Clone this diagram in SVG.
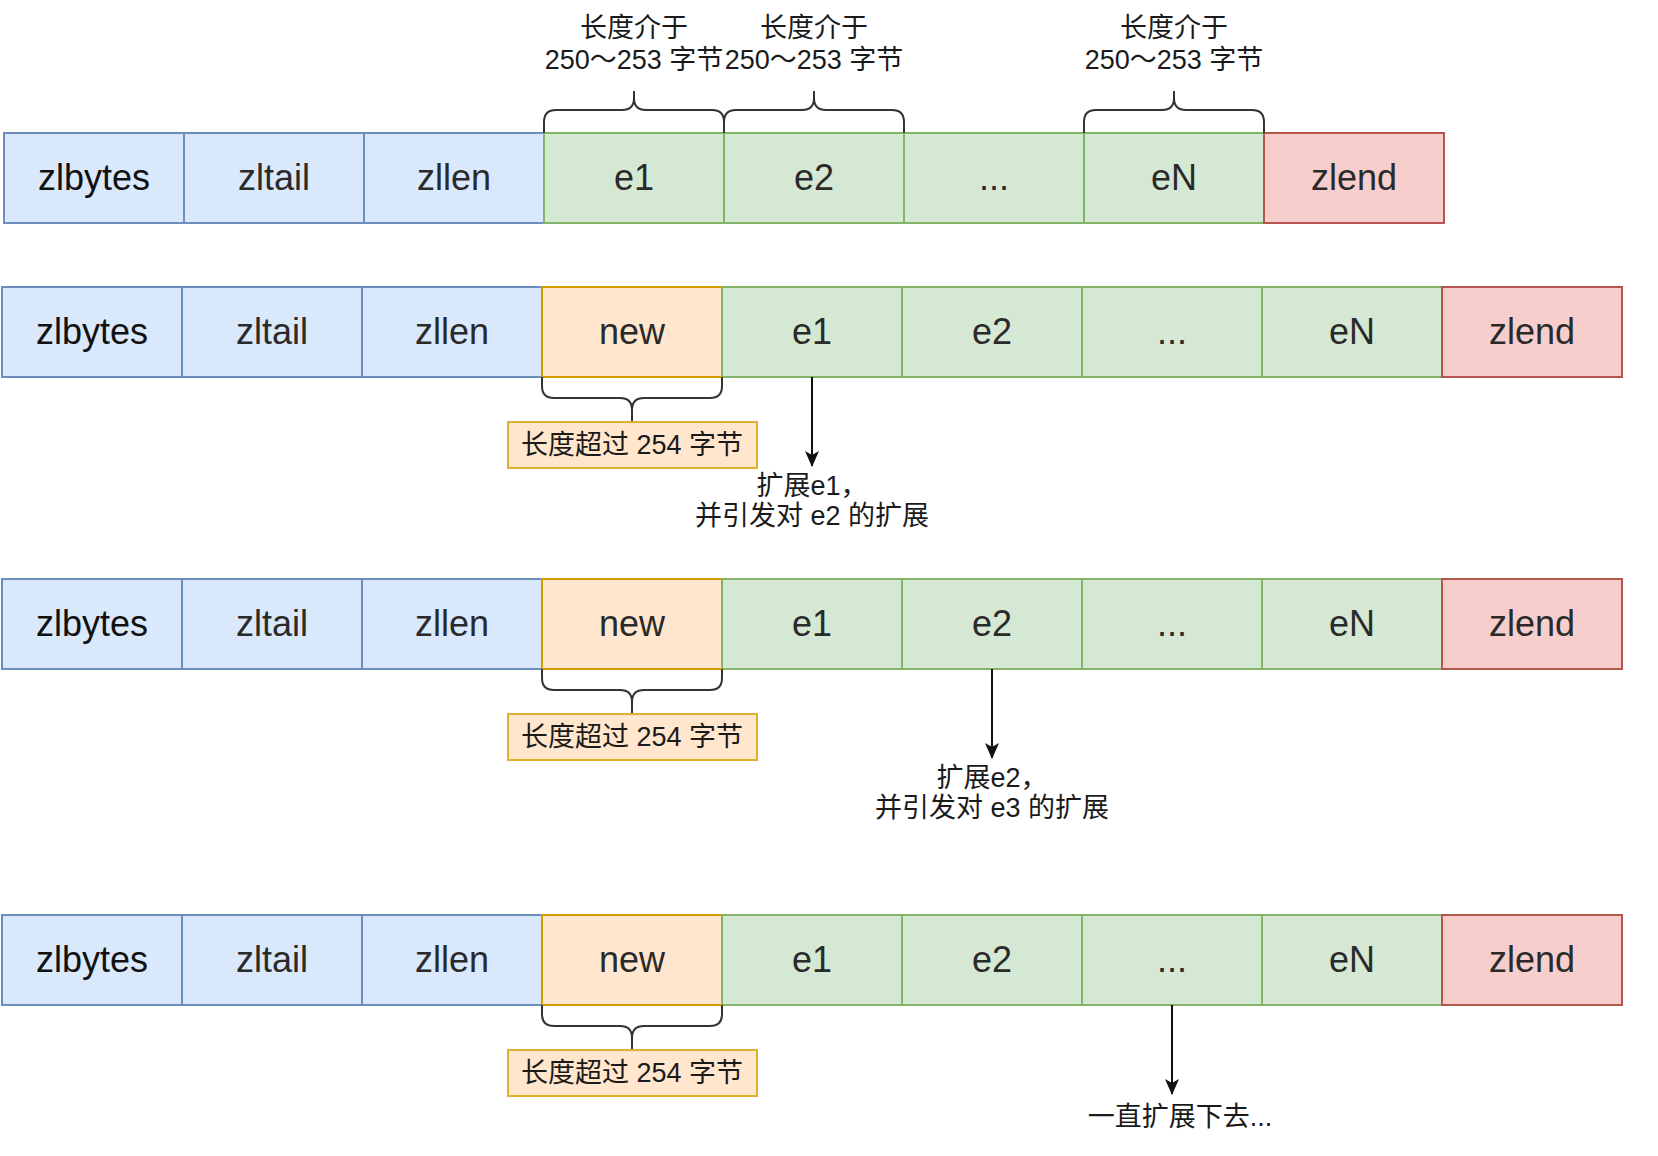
<svg xmlns="http://www.w3.org/2000/svg" width="1658" height="1156" viewBox="0 0 1658 1156">
<defs>
<style>
.b{fill:#dae8fc;stroke:#6c8ebf;stroke-width:2}
.g{fill:#d5e8d4;stroke:#82b366;stroke-width:2}
.o{fill:#ffe6cc;stroke:#d79b00;stroke-width:2}
.r{fill:#f8cecc;stroke:#b85450;stroke-width:2}
.lb{fill:#ffe6cc;stroke:#e0b030;stroke-width:2}
.t{font-family:"Liberation Sans",Arial,sans-serif;font-size:36px;fill:#2a2a2a;text-anchor:middle}
.c{font-family:"Liberation Sans","Noto Sans CJK SC",sans-serif;font-size:27px;fill:#1a1a1a;text-anchor:middle}
.br{fill:none;stroke:#333;stroke-width:2}
.ar{stroke:#111;stroke-width:2;fill:none}
</style>
<marker id="ah" markerWidth="16" markerHeight="16" viewBox="0 0 16 16" refX="15" refY="8" orient="auto" markerUnits="userSpaceOnUse">
<path d="M0,1 L16,8 L0,15 L4,8 Z" fill="#111"/>
</marker>
</defs>
<rect width="1658" height="1156" fill="#fff"/>

<!-- Row 1 -->
<g id="row1">
<g id="r1-zlbytes"><rect class="b" x="4" y="133" width="180" height="90"/><text class="t" x="94" y="190" fill="#111" style="fill:#111">zlbytes</text></g>
<g id="r1-zltail"><rect class="b" x="184" y="133" width="180" height="90"/><text class="t" x="274" y="190">zltail</text></g>
<g id="r1-zllen"><rect class="b" x="364" y="133" width="180" height="90"/><text class="t" x="454" y="190">zllen</text></g>
<g id="r1-e1"><rect class="g" x="544" y="133" width="180" height="90"/><text class="t" x="634" y="190">e1</text></g>
<g id="r1-e2"><rect class="g" x="724" y="133" width="180" height="90"/><text class="t" x="814" y="190">e2</text></g>
<g id="r1-dots"><rect class="g" x="904" y="133" width="180" height="90"/><text class="t" x="994" y="190">...</text></g>
<g id="r1-eN"><rect class="g" x="1084" y="133" width="180" height="90"/><text class="t" x="1174" y="190">eN</text></g>
<g id="r1-zlend"><rect class="r" x="1264" y="133" width="180" height="90"/><text class="t" x="1354" y="190">zlend</text></g>
</g>
<g id="r1-labels">
<g id="lab-e1"><text class="c" x="634" y="37">长度介于</text><text class="c" x="634" y="69">250～253 字节</text></g>
<g id="lab-e2"><text class="c" x="814" y="37">长度介于</text><text class="c" x="814" y="69">250～253 字节</text></g>
<g id="lab-eN"><text class="c" x="1174" y="37">长度介于</text><text class="c" x="1174" y="69">250～253 字节</text></g>
</g>

<!-- Row 2 -->
<g id="row2">
<g id="r2-zlbytes"><rect class="b" x="2" y="287" width="180" height="90"/><text class="t" x="92" y="344" style="fill:#111">zlbytes</text></g>
<g id="r2-zltail"><rect class="b" x="182" y="287" width="180" height="90"/><text class="t" x="272" y="344">zltail</text></g>
<g id="r2-zllen"><rect class="b" x="362" y="287" width="180" height="90"/><text class="t" x="452" y="344">zllen</text></g>
<g id="r2-new"><rect class="o" x="542" y="287" width="180" height="90"/><text class="t" x="632" y="344">new</text></g>
<g id="r2-e1"><rect class="g" x="722" y="287" width="180" height="90"/><text class="t" x="812" y="344">e1</text></g>
<g id="r2-e2"><rect class="g" x="902" y="287" width="180" height="90"/><text class="t" x="992" y="344">e2</text></g>
<g id="r2-dots"><rect class="g" x="1082" y="287" width="180" height="90"/><text class="t" x="1172" y="344">...</text></g>
<g id="r2-eN"><rect class="g" x="1262" y="287" width="180" height="90"/><text class="t" x="1352" y="344">eN</text></g>
<g id="r2-zlend"><rect class="r" x="1442" y="287" width="180" height="90"/><text class="t" x="1532" y="344">zlend</text></g>
</g>
<g id="r2-label"><rect class="lb" x="508" y="422" width="249" height="46"/><text class="c" x="632" y="454">长度超过 254 字节</text></g>
<g id="r2-note"><text class="c" x="812" y="495">扩展e1，</text><text class="c" x="812" y="525">并引发对 e2 的扩展</text></g>

<!-- Row 3 -->
<g id="row3">
<g id="r3-zlbytes"><rect class="b" x="2" y="579" width="180" height="90"/><text class="t" x="92" y="636" style="fill:#111">zlbytes</text></g>
<g id="r3-zltail"><rect class="b" x="182" y="579" width="180" height="90"/><text class="t" x="272" y="636">zltail</text></g>
<g id="r3-zllen"><rect class="b" x="362" y="579" width="180" height="90"/><text class="t" x="452" y="636">zllen</text></g>
<g id="r3-new"><rect class="o" x="542" y="579" width="180" height="90"/><text class="t" x="632" y="636">new</text></g>
<g id="r3-e1"><rect class="g" x="722" y="579" width="180" height="90"/><text class="t" x="812" y="636">e1</text></g>
<g id="r3-e2"><rect class="g" x="902" y="579" width="180" height="90"/><text class="t" x="992" y="636">e2</text></g>
<g id="r3-dots"><rect class="g" x="1082" y="579" width="180" height="90"/><text class="t" x="1172" y="636">...</text></g>
<g id="r3-eN"><rect class="g" x="1262" y="579" width="180" height="90"/><text class="t" x="1352" y="636">eN</text></g>
<g id="r3-zlend"><rect class="r" x="1442" y="579" width="180" height="90"/><text class="t" x="1532" y="636">zlend</text></g>
</g>
<g id="r3-label"><rect class="lb" x="508" y="714" width="249" height="46"/><text class="c" x="632" y="746">长度超过 254 字节</text></g>
<g id="r3-note"><text class="c" x="992" y="787">扩展e2，</text><text class="c" x="992" y="817">并引发对 e3 的扩展</text></g>

<!-- Row 4 -->
<g id="row4">
<g id="r4-zlbytes"><rect class="b" x="2" y="915" width="180" height="90"/><text class="t" x="92" y="972" style="fill:#111">zlbytes</text></g>
<g id="r4-zltail"><rect class="b" x="182" y="915" width="180" height="90"/><text class="t" x="272" y="972">zltail</text></g>
<g id="r4-zllen"><rect class="b" x="362" y="915" width="180" height="90"/><text class="t" x="452" y="972">zllen</text></g>
<g id="r4-new"><rect class="o" x="542" y="915" width="180" height="90"/><text class="t" x="632" y="972">new</text></g>
<g id="r4-e1"><rect class="g" x="722" y="915" width="180" height="90"/><text class="t" x="812" y="972">e1</text></g>
<g id="r4-e2"><rect class="g" x="902" y="915" width="180" height="90"/><text class="t" x="992" y="972">e2</text></g>
<g id="r4-dots"><rect class="g" x="1082" y="915" width="180" height="90"/><text class="t" x="1172" y="972">...</text></g>
<g id="r4-eN"><rect class="g" x="1262" y="915" width="180" height="90"/><text class="t" x="1352" y="972">eN</text></g>
<g id="r4-zlend"><rect class="r" x="1442" y="915" width="180" height="90"/><text class="t" x="1532" y="972">zlend</text></g>
</g>
<g id="r4-label"><rect class="lb" x="508" y="1050" width="249" height="46"/><text class="c" x="632" y="1082">长度超过 254 字节</text></g>
<g id="r4-note"><text class="c" x="1180" y="1126">一直扩展下去...</text></g>

<!-- Connectors: braces and arrows -->
<g id="connectors">
<path class="br" d="M544,133 V122 Q544,110 556,110 H622 Q634,110 634,98 V91 M634,98 Q634,110 646,110 H712 Q724,110 724,122 V133"/>
<path class="br" d="M724,133 V122 Q724,110 736,110 H802 Q814,110 814,98 V91 M814,98 Q814,110 826,110 H892 Q904,110 904,122 V133"/>
<path class="br" d="M1084,133 V122 Q1084,110 1096,110 H1162 Q1174,110 1174,98 V91 M1174,98 Q1174,110 1186,110 H1252 Q1264,110 1264,122 V133"/>
<path class="br" d="M542,377 V386 Q542,398 554,398 H620 Q632,398 632,410 V421 M632,410 Q632,398 644,398 H710 Q722,398 722,386 V377"/>
<path class="br" d="M542,669 V678 Q542,690 554,690 H620 Q632,690 632,702 V713 M632,702 Q632,690 644,690 H710 Q722,690 722,678 V669"/>
<path class="br" d="M542,1005 V1014 Q542,1026 554,1026 H620 Q632,1026 632,1038 V1049 M632,1038 Q632,1026 644,1026 H710 Q722,1026 722,1014 V1005"/>
<line class="ar" x1="812" y1="377" x2="812" y2="466" marker-end="url(#ah)"/>
<line class="ar" x1="992" y1="669" x2="992" y2="758" marker-end="url(#ah)"/>
<line class="ar" x1="1172" y1="1005" x2="1172" y2="1094" marker-end="url(#ah)"/>
</g>
</svg>
